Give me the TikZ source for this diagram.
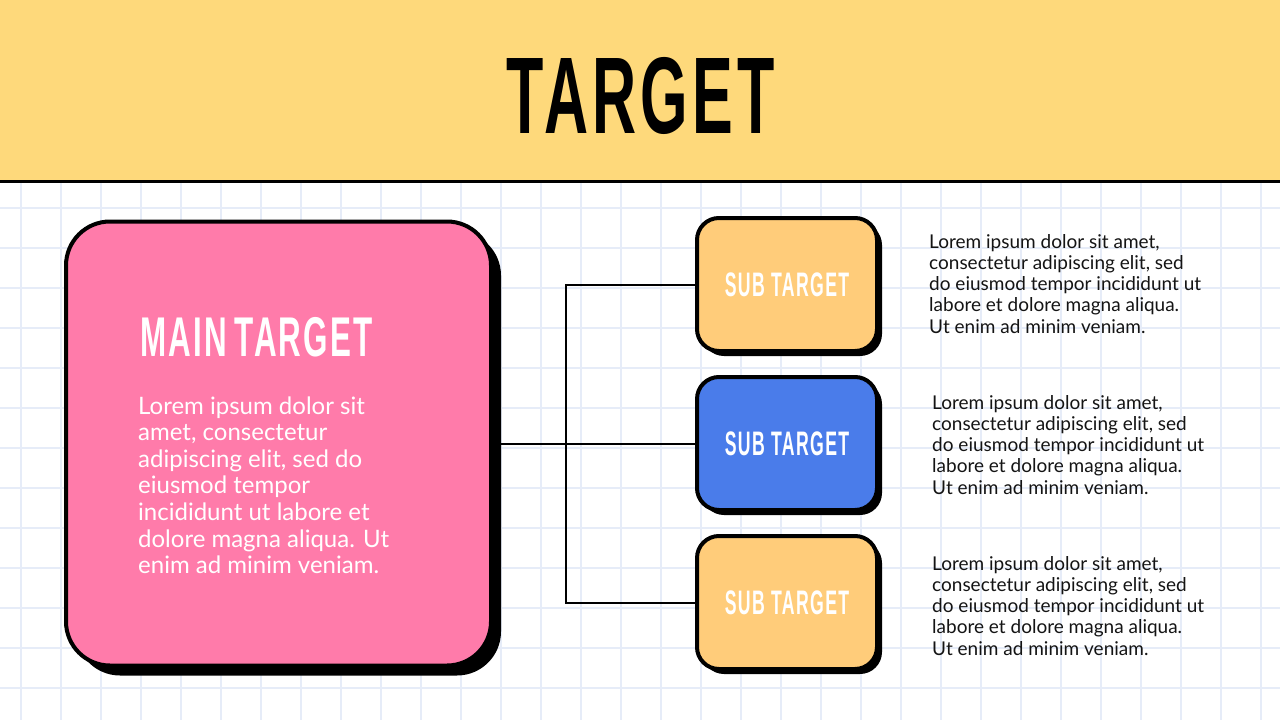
\documentclass[tikz,border=0pt]{standalone}
\usepackage{fontspec}
\setmainfont{Lato}
\newfontfamily\bebas[FakeStretch=0.56,LetterSpace=4]{Liberation Sans}
\newfontfamily\bebassub[FakeStretch=0.52,LetterSpace=4]{Liberation Sans}
\usetikzlibrary{shadows}
\pgfdeclarelayer{gridlayer}
\pgfdeclarelayer{connlayer}
\pgfsetlayers{gridlayer,connlayer,main}
\definecolor{headc}{HTML}{FED97B}
\definecolor{pinkc}{HTML}{FF7BAA}
\definecolor{orangec}{HTML}{FFCC7A}
\definecolor{bluec}{HTML}{4A7CEA}
\definecolor{gridc}{HTML}{E6ECF8}
\definecolor{textc}{HTML}{141414}
\tikzset{
  gridline/.style={draw=gridc, line width=2pt},
  mainbox/.style={draw=black, line width=4pt, rounded corners=44pt, fill=pinkc,
    minimum width=425pt, minimum height=444pt, inner sep=0pt,
    general shadow={fill=black, shadow xshift=10pt, shadow yshift=-10pt}},
  subbox/.style={draw=black, line width=4pt, rounded corners=22pt,
    minimum width=180pt, minimum height=133pt, inner sep=0pt,
    general shadow={fill=black, shadow xshift=5pt, shadow yshift=-5pt},
    text=white, font=\bebassub\bfseries\fontsize{34}{34}\selectfont},
  conn/.style={draw=black, line width=2pt},
  desc/.style={anchor=base west, align=left, inner sep=0pt, text=textc,
    font=\fontsize{19}{21.3}\selectfont},
}
\begin{document}
\begin{tikzpicture}[x=1pt,y=-1pt]
\useasboundingbox (0,0) rectangle (1280,720);
\begin{pgfonlayer}{gridlayer}
\fill[white] (0,0) rectangle (1280,720);
\foreach \x in {21,61,...,1261} \draw[gridline] (\x,182) -- (\x,720);
\foreach \y in {208,248,...,688} \draw[gridline] (0,\y) -- (1280,\y);
\fill[headc] (0,0) rectangle (1280,181);
\draw[black, line width=2.5pt] (0,181.5) -- (1280,181.5);
\end{pgfonlayer}
\node[anchor=base, inner sep=0pt, font=\bebas\bfseries\fontsize{109}{109}\selectfont] (title) at (641,133) {TARGET};
% boxes
\node[mainbox] (main) at (278.5,443.5) {};
\node[subbox, fill=orangec] (s1) at (787,284.5) {SUB TARGET};
\node[subbox, fill=bluec] (s2) at (787,443.5) {SUB TARGET};
\node[subbox, fill=orangec] (s3) at (787,602.5) {SUB TARGET};
% connectors
\coordinate (j1) at (566,284.5);
\coordinate (j3) at (566,602.5);
\begin{pgfonlayer}{connlayer}
\draw[conn] (main.east) -- (s2.west);
\draw[conn] (s1.west) -- (j1) -- (j3) -- (s3.west);
\end{pgfonlayer}
% main texts
\node[anchor=base west, inner sep=0pt, text=white, font=\bebas\bfseries\fontsize{56}{56}\selectfont] (mt) at (140,356) {MAIN\hspace{-3pt} TARGET};
\node[anchor=base west, align=left, inner sep=0pt, text=white, font=\fontsize{24}{26.6}\selectfont] (mtext) at (138,573.6)
 {Lorem ipsum dolor sit\\amet, consectetur\\adipiscing elit, sed do\\eiusmod tempor\\incididunt ut labore et\\dolore magna aliqua. Ut\\enim ad minim veniam.};
% descriptions
\node[desc] (d1) at (929,333.2) {Lorem ipsum dolor sit amet,\\consectetur adipiscing elit, sed\\do eiusmod tempor incididunt ut\\labore et dolore magna aliqua.\\Ut enim ad minim veniam.};
\node[desc] (d2) at (932,494.2) {Lorem ipsum dolor sit amet,\\consectetur adipiscing elit, sed\\do eiusmod tempor incididunt ut\\labore et dolore magna aliqua.\\Ut enim ad minim veniam.};
\node[desc] (d3) at (932,655.2) {Lorem ipsum dolor sit amet,\\consectetur adipiscing elit, sed\\do eiusmod tempor incididunt ut\\labore et dolore magna aliqua.\\Ut enim ad minim veniam.};
\end{tikzpicture}
\end{document}
